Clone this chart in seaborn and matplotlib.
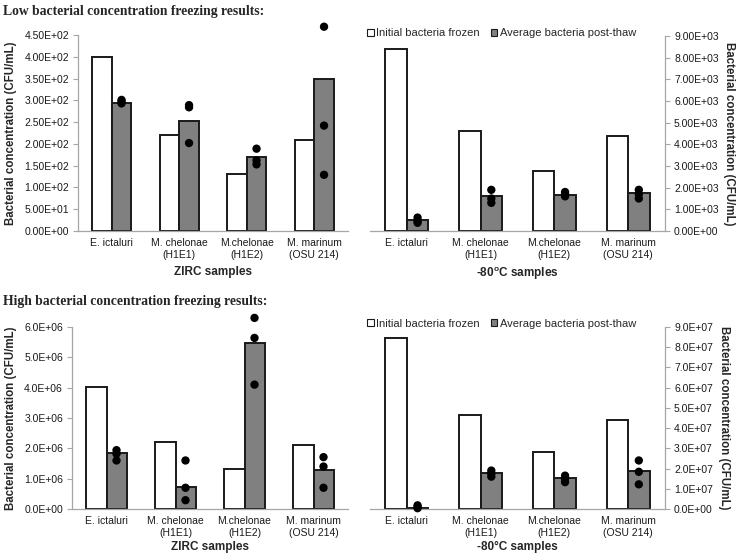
import matplotlib
matplotlib.use("Agg")
import matplotlib.pyplot as plt
from matplotlib.ticker import FuncFormatter, FixedLocator, MultipleLocator
from matplotlib.patches import Patch
import seaborn as sns
import pandas as pd

"""
Data read off the reference figure.
"""

samples = ["E. ictaluri", "M. chelonae\n(H1E1)", "M.chelonae\n(H1E2)", "M. marinum\n(OSU 214)"]
series = ["Initial bacteria frozen", "Average bacteria post-thaw"]

# low concentration, ZIRC
low_zirc_initial = [400, 220, 131, 209]
low_zirc_average = [293, 252, 170, 350]
low_zirc_points = [[301, 297, 293], [289, 284, 202], [189, 162, 153], [469, 242, 129]]

# low concentration, -80C
low_80_initial = [8380, 4630, 2790, 4400]
low_80_average = [520, 1600, 1680, 1750]
low_80_points = [[620, 470, 380], [1900, 1500, 1300], [1800, 1700, 1600], [1900, 1700, 1500]]

# high concentration, ZIRC
high_zirc_initial = [4.01e6, 2.22e6, 1.33e6, 2.11e6]
high_zirc_average = [1.84e6, 0.73e6, 5.48e6, 1.30e6]
high_zirc_points = [[1.94e6, 1.82e6, 1.60e6], [1.60e6, 0.70e6, 0.29e6], [6.30e6, 5.64e6, 4.10e6], [1.71e6, 1.40e6, 0.70e6]]

# high concentration, -80C
high_80_initial = [8.45e7, 4.65e7, 2.80e7, 4.42e7]
high_80_average = [0.06e7, 1.78e7, 1.52e7, 1.90e7]
high_80_points = [[0.18e7, 0.10e7, 0.04e7], [1.90e7, 1.75e7, 1.60e7], [1.65e7, 1.50e7, 1.33e7], [2.40e7, 1.84e7, 1.22e7]]

ylabel = "Bacterial concentration (CFU/mL)"


def make_df(initial, average):
    rows = [(s, series[0], v) for s, v in zip(samples, initial)]
    rows += [(s, series[1], v) for s, v in zip(samples, average)]
    return pd.DataFrame(rows, columns=["sample", "series", "value"])


def make_points(points):
    return pd.DataFrame([(s, v) for s, vals in zip(samples, points) for v in vals],
                        columns=["sample", "value"])


"""
Do the plotting.
"""

sns.set_style("white")
plt.rcParams["font.family"] = ["Liberation Sans", "DejaVu Sans"]
plt.rcParams["mathtext.fontset"] = "custom"
plt.rcParams["mathtext.rm"] = "Liberation Sans"
plt.rcParams["mathtext.bf"] = "Liberation Sans:bold"

palette = {series[0]: "white", series[1]: "#808080"}
spine_gray = "#a6a6a6"

fig = plt.figure(figsize=(7.41, 5.56), dpi=100)
W, H = 741, 556


def px_axes(x0, y0, x1, y1):
    return fig.add_axes([x0 / W, 1 - y1 / H, (x1 - x0) / W, (y1 - y0) / H])


def panel(ax, initial, average, points, ymax, step, fmt, xlabel, right=False, xpad=4):
    df = make_df(initial, average)
    sns.barplot(data=df, x="sample", y="value", hue="series", hue_order=series,
                palette=palette, edgecolor="#1a1a1a", linewidth=1.4, width=0.58,
                gap=0, legend=False, ax=ax)
    # dots sit on the centre of the post-thaw bars
    centers = [p.get_x() + p.get_width() / 2 for p in ax.containers[1].patches]
    pts = make_points(points)
    pts["x"] = pts["sample"].map(dict(zip(samples, centers)))
    sns.scatterplot(data=pts, x="x", y="value", color="black", s=36,
                    edgecolor="none", zorder=5, ax=ax, clip_on=False)

    ax.set_xlim(-0.5, 3.5)
    ax.set_ylim(0, ymax)
    ax.set_xticks(range(len(samples)))
    ax.set_xticklabels(samples, fontsize=7.5, color="#1a1a1a", linespacing=1.25)
    ax.xaxis.set_minor_locator(FixedLocator([-0.5, 0.5, 1.5, 2.5, 3.5]))
    ax.tick_params(axis="x", which="major", length=0, pad=5)
    ax.tick_params(axis="x", which="minor", length=3.5, color=spine_gray, width=0.8)
    ax.yaxis.set_major_locator(MultipleLocator(step))
    ax.yaxis.set_major_formatter(FuncFormatter(lambda v, _: fmt.format(v)))
    ax.tick_params(axis="y", length=3.5, color=spine_gray, width=0.8, labelsize=7.5,
                   labelcolor="#1a1a1a", pad=3)
    ax.set_xlabel(xlabel, fontsize=8.5, fontweight="bold", labelpad=xpad)

    for side in ["top", "left", "right", "bottom"]:
        ax.spines[side].set_visible(False)
    ax.spines["bottom"].set_visible(True)
    ax.spines["bottom"].set_color(spine_gray)
    ax.spines["bottom"].set_linewidth(0.9)
    keep = "right" if right else "left"
    ax.spines[keep].set_visible(True)
    ax.spines[keep].set_color(spine_gray)
    ax.spines[keep].set_linewidth(0.9)
    ax.tick_params(axis="y", left=not right, right=right, labelleft=not right, labelright=right)
    if right:
        ax.yaxis.set_label_position("right")
        ax.set_ylabel(ylabel, fontsize=8.3, fontweight="bold", rotation=270, labelpad=12)
        handles = [Patch(facecolor=palette[s], edgecolor="#1a1a1a", linewidth=0.8, label=s)
                   for s in series]
        ax.legend(handles=handles, loc="lower left", bbox_to_anchor=(-0.01, 0.99),
                  ncol=2, frameon=False, fontsize=8, handlelength=0.6, handleheight=0.6,
                  handletextpad=0.2, columnspacing=1.0, borderaxespad=0, borderpad=0)
    else:
        ax.set_ylabel(ylabel, fontsize=8.3, fontweight="bold", labelpad=5)
    ax.set_facecolor("white")


ax1 = px_axes(78, 35, 348, 231)
panel(ax1, low_zirc_initial, low_zirc_average, low_zirc_points, 450, 50, "{:.2E}", "ZIRC samples")

ax2 = px_axes(370, 36, 665, 231)
panel(ax2, low_80_initial, low_80_average, low_80_points, 9000, 1000, "{:.2E}",
      r"-80$^{\mathbf{o}}$C samples", right=True)

ax3 = px_axes(72, 327, 348, 509)
panel(ax3, high_zirc_initial, high_zirc_average, high_zirc_points, 6e6, 1e6, "{:.1E}",
      "ZIRC samples", xpad=2)

ax4 = px_axes(370, 327, 665, 509)
panel(ax4, high_80_initial, high_80_average, high_80_points, 9e7, 1e7, "{:.1E}",
      "-80°C samples", right=True, xpad=2)

fig.text(0.004, 1 - 11 / H, "Low bacterial concentration freezing results:",
         family="Liberation Serif", fontweight="bold", fontsize=9.8, va="center", ha="left")
fig.text(0.004, 1 - 302 / H, "High bacterial concentration freezing results:",
         family="Liberation Serif", fontweight="bold", fontsize=9.8, va="center", ha="left")

fig.savefig("out.png", dpi=100, facecolor="white")
